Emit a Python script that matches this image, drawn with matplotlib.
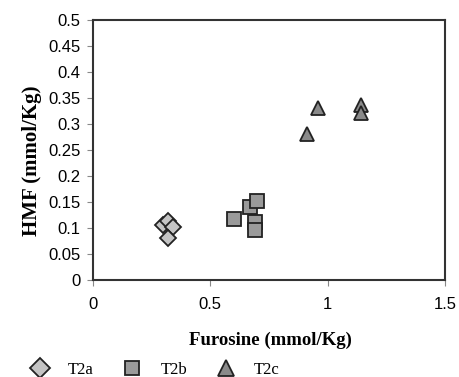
import matplotlib.pyplot as plt
from matplotlib.lines import Line2D

# data
t2a_x = [0.30, 0.32, 0.34, 0.32]
t2a_y = [0.105, 0.113, 0.102, 0.080]
t2b_x = [0.60, 0.67, 0.70, 0.69, 0.69]
t2b_y = [0.117, 0.140, 0.152, 0.112, 0.097]
t2c_x = [0.91, 0.96, 1.14, 1.14]
t2c_y = [0.280, 0.330, 0.337, 0.322]

# name, x, y, marker, face colour, plot size, legend size
series = [
    ("T2a", t2a_x, t2a_y, "D", "#c4c4c4", 8, 10),
    ("T2b", t2b_x, t2b_y, "s", "#9a9a9a", 10, 10),
    ("T2c", t2c_x, t2c_y, "^", "#8a8a8a", 10, 11),
]

fig = plt.figure(figsize=(4.59, 3.77), dpi=100)
ax = fig.add_axes([0.2026, 0.2573, 0.7669, 0.6897])

for name, xs, ys, mk, fc, ms, lms in series:
    ax.plot(xs, ys, linestyle="none", marker=mk, markersize=ms,
            markerfacecolor=fc, markeredgecolor="#222222", markeredgewidth=1.3)

ax.set_xlim(0, 1.5)
ax.set_ylim(0, 0.5)
xt = [0, 0.5, 1, 1.5]
yt = [i * 0.05 for i in range(11)]
ax.set_xticks(xt)
ax.set_xticklabels(["0", "0.5", "1", "1.5"])
ax.set_yticks(yt)
ax.set_yticklabels(["0", "0.05", "0.1", "0.15", "0.2", "0.25", "0.3",
                    "0.35", "0.4", "0.45", "0.5"])
ax.tick_params(direction="out", length=4, width=0.8, color="#888888",
               labelsize=12)
ax.tick_params(axis="x", pad=8)
ax.tick_params(axis="y", pad=5)
for lab in ax.get_xticklabels() + ax.get_yticklabels():
    lab.set_fontfamily("Liberation Sans")
for sp in ax.spines.values():
    sp.set_linewidth(1.5)
    sp.set_color("#333333")

ax.set_xlabel("Furosine (mmol/Kg)", fontfamily="Liberation Serif",
              fontweight="bold", fontsize=13.5)
ax.set_ylabel("HMF (mmol/Kg)", fontfamily="Liberation Serif",
              fontweight="bold", fontsize=15)
ax.xaxis.set_label_coords(0.503, -0.2)
ax.yaxis.set_label_coords(-0.145, 0.46)

handles = [Line2D([], [], linestyle="none", marker=mk, markersize=lms,
                  markerfacecolor=fc, markeredgecolor="#222222",
                  markeredgewidth=1.3, label=name)
           for name, xs, ys, mk, fc, ms, lms in series]
fig.legend(handles=handles, loc="center left", bbox_to_anchor=(0.065, 0.018),
           ncol=3, frameon=False, prop={"family": "Liberation Serif", "size": 12},
           handlelength=1.2, handletextpad=1.1, columnspacing=1.7,
           borderpad=0, borderaxespad=0)

fig.savefig("out.png", dpi=100)
